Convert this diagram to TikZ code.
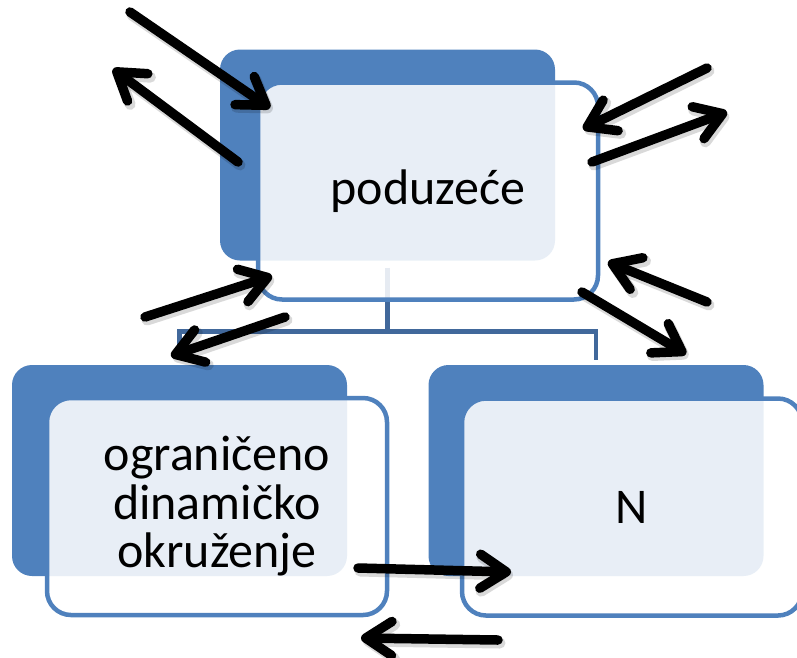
\documentclass[tikz,border=0pt]{standalone}
\usepackage{fontspec}
\setmainfont{Carlito}
\usetikzlibrary{arrows.meta}
\definecolor{accent}{RGB}{79,129,189}
\definecolor{connc}{RGB}{65,104,155}
\tikzset{
  bluebox/.style={fill=accent, rounded corners=20pt, minimum width=335pt, minimum height=211pt, inner sep=0pt},
  whitebox/.style={fill=white, fill opacity=0.87, text opacity=1, draw=accent, line width=4.5pt,
    rounded corners=24pt, minimum width=340pt, minimum height=217pt, inner sep=0pt, align=center,
    font=\fontsize{50}{48.5}\selectfont},
  conn/.style={draw=connc, line width=4.5pt},
  arr/.style={draw=black, line width=9.5pt, line cap=round, -{Straight Barb[length=26pt,width=34pt,round]}},
  arrshadow/.style={draw=black, draw opacity=0.15, line width=11pt, line cap=round, -{Straight Barb[length=26pt,width=34pt,round]}}
}
\newcommand\myarrow[2]{%
  \draw[arrshadow] ([shift={(2pt,-3pt)}]#1) -- ([shift={(2pt,-3pt)}]#2);
  \draw[arr] (#1) -- (#2);}
\begin{document}
\begin{tikzpicture}[x=1pt,y=-1pt]
\useasboundingbox (0,0) rectangle (797,657);
% blue background boxes
\node[bluebox] (tb) at (387.5,155) {};
\node[bluebox] (lb) at (179.5,470.5) {};
\node[bluebox] (rb) at (596,470.5) {};
% connectors
\draw[conn] ([yshift=-7pt]tb.south) -- ++(0,-64pt) coordinate (mid);
\draw[conn] ([yshift=5pt]lb.north) |- (mid) -| ([yshift=5pt]rb.north);
% white boxes with text
\node[whitebox] (tw) at (428,191) {poduzeće};
\node[whitebox] (lw) at (217,506.5) {ograničeno\\dinamičko\\okruženje};
\node[whitebox] (rw) at (632,507) {N};
% arrows
\coordinate (a1s) at (130,12);   \coordinate (a1e) at (270,108);
\coordinate (a2s) at (238,162);  \coordinate (a2e) at (113,69);
\coordinate (a3s) at (707,68);   \coordinate (a3e) at (583,129);
\coordinate (a4s) at (592,162);  \coordinate (a4e) at (727,112);
\coordinate (a5s) at (145,317);  \coordinate (a5e) at (272,276);
\coordinate (a6s) at (285,317);  \coordinate (a6e) at (171,356);
\coordinate (a7s) at (707,302);  \coordinate (a7e) at (608,262);
\coordinate (a8s) at (582,292);  \coordinate (a8e) at (686,354);
\coordinate (a9s) at (358,568);  \coordinate (a9e) at (511,572);
\coordinate (a10s) at (498,640); \coordinate (a10e) at (361,638);
\myarrow{a1s}{a1e}
\myarrow{a2s}{a2e}
\myarrow{a3s}{a3e}
\myarrow{a4s}{a4e}
\myarrow{a5s}{a5e}
\myarrow{a6s}{a6e}
\myarrow{a7s}{a7e}
\myarrow{a8s}{a8e}
\myarrow{a9s}{a9e}
\myarrow{a10s}{a10e}
\end{tikzpicture}
\end{document}
